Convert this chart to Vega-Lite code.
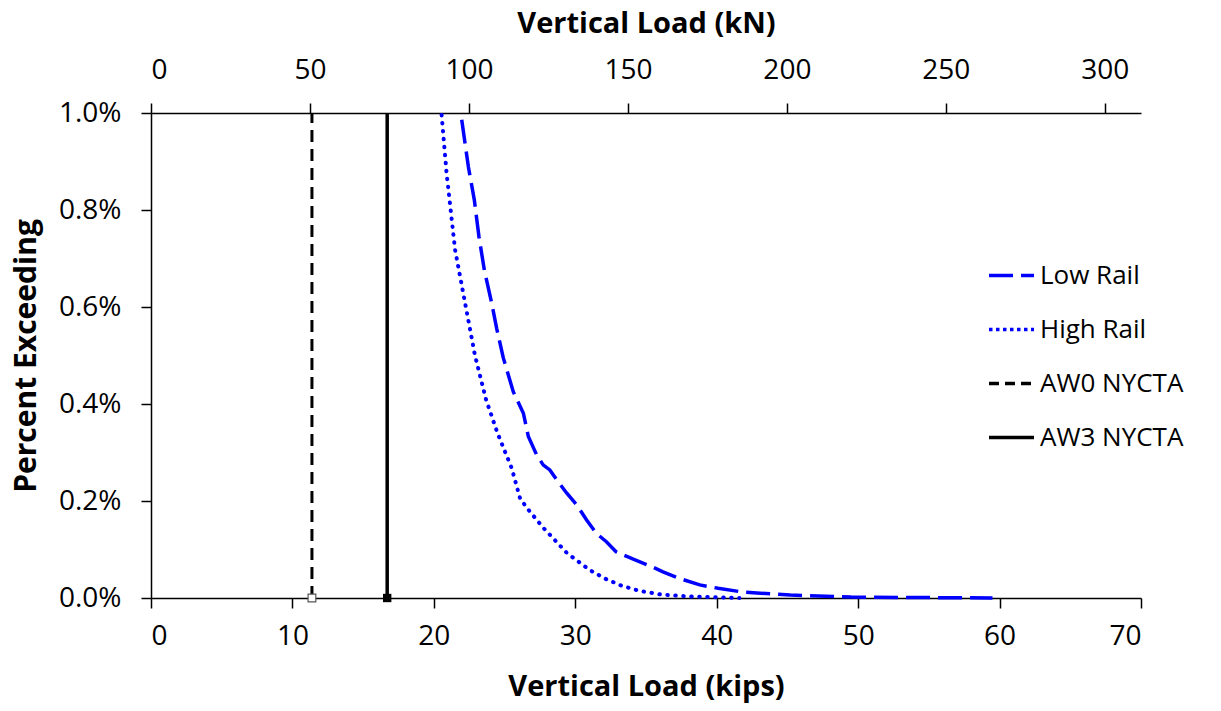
{
  "$schema": "https://vega.github.io/schema/vega-lite/v6.json",
  "width": 990,
  "height": 485,
  "autosize": {"type": "none"},
  "padding": {"left": 151, "top": 113, "right": 80, "bottom": 113},
  "background": "white",
  "config": {
    "font": "Open Sans",
    "view": {"stroke": null},
    "axis": {"grid": false, "labelFontSize": 28, "titleFontSize": 29, "titleFontWeight": "bold", "labelColor": "black", "titleColor": "black", "domainColor": "black", "tickColor": "black", "domainWidth": 1.5, "tickWidth": 1.5, "tickSize": 10}
  },
  "data": {
    "values": [
      {"series": "Low Rail", "kips": 21.97, "pct": 0.00986},
      {"series": "Low Rail", "kips": 22.44, "pct": 0.00889},
      {"series": "Low Rail", "kips": 22.86, "pct": 0.00821},
      {"series": "Low Rail", "kips": 23.19, "pct": 0.00745},
      {"series": "Low Rail", "kips": 23.57, "pct": 0.00676},
      {"series": "Low Rail", "kips": 24.09, "pct": 0.00608},
      {"series": "Low Rail", "kips": 24.44, "pct": 0.00556},
      {"series": "Low Rail", "kips": 24.91, "pct": 0.00495},
      {"series": "Low Rail", "kips": 25.62, "pct": 0.00425},
      {"series": "Low Rail", "kips": 26.33, "pct": 0.00381},
      {"series": "Low Rail", "kips": 26.68, "pct": 0.00333},
      {"series": "Low Rail", "kips": 27.27, "pct": 0.00295},
      {"series": "Low Rail", "kips": 27.74, "pct": 0.00274},
      {"series": "Low Rail", "kips": 28.2, "pct": 0.00264},
      {"series": "Low Rail", "kips": 28.7, "pct": 0.00243},
      {"series": "Low Rail", "kips": 29.4, "pct": 0.00216},
      {"series": "Low Rail", "kips": 30.1, "pct": 0.00192},
      {"series": "Low Rail", "kips": 30.8, "pct": 0.00161},
      {"series": "Low Rail", "kips": 31.5, "pct": 0.00133},
      {"series": "Low Rail", "kips": 32.2, "pct": 0.00116},
      {"series": "Low Rail", "kips": 32.9, "pct": 0.00095},
      {"series": "Low Rail", "kips": 34.1, "pct": 0.0008},
      {"series": "Low Rail", "kips": 35.3, "pct": 0.00066},
      {"series": "Low Rail", "kips": 36.2, "pct": 0.00054},
      {"series": "Low Rail", "kips": 37.4, "pct": 0.0004},
      {"series": "Low Rail", "kips": 38.8, "pct": 0.00027},
      {"series": "Low Rail", "kips": 40.1, "pct": 0.0002},
      {"series": "Low Rail", "kips": 41.9, "pct": 0.00012},
      {"series": "Low Rail", "kips": 45.2, "pct": 0.00006},
      {"series": "Low Rail", "kips": 49.5, "pct": 0.00002},
      {"series": "Low Rail", "kips": 54.0, "pct": 0.00001},
      {"series": "Low Rail", "kips": 59.5, "pct": 0.0},
      {"series": "High Rail", "kips": 20.55, "pct": 0.00996},
      {"series": "High Rail", "kips": 20.9, "pct": 0.00876},
      {"series": "High Rail", "kips": 21.5, "pct": 0.00718},
      {"series": "High Rail", "kips": 22.3, "pct": 0.00594},
      {"series": "High Rail", "kips": 22.9, "pct": 0.00501},
      {"series": "High Rail", "kips": 23.7, "pct": 0.00408},
      {"series": "High Rail", "kips": 24.5, "pct": 0.0034},
      {"series": "High Rail", "kips": 25.5, "pct": 0.00268},
      {"series": "High Rail", "kips": 26.1, "pct": 0.00205},
      {"series": "High Rail", "kips": 26.6, "pct": 0.00185},
      {"series": "High Rail", "kips": 27.7, "pct": 0.00146},
      {"series": "High Rail", "kips": 29.4, "pct": 0.00093},
      {"series": "High Rail", "kips": 31.0, "pct": 0.00058},
      {"series": "High Rail", "kips": 32.1, "pct": 0.0004},
      {"series": "High Rail", "kips": 33.3, "pct": 0.00025},
      {"series": "High Rail", "kips": 34.5, "pct": 0.00015},
      {"series": "High Rail", "kips": 36.1, "pct": 0.00007},
      {"series": "High Rail", "kips": 38.1, "pct": 0.00003},
      {"series": "High Rail", "kips": 41.6, "pct": 0.0},
      {"series": "AW0 NYCTA", "kips": 11.38, "pct": 0.0},
      {"series": "AW0 NYCTA", "kips": 11.38, "pct": 0.01},
      {"series": "AW3 NYCTA", "kips": 16.7, "pct": 0.0},
      {"series": "AW3 NYCTA", "kips": 16.7, "pct": 0.01}
    ]
  },
  "layer": [
    {
      "transform": [{"filter": "datum.series == 'Low Rail'"}],
      "mark": {"type": "line", "strokeWidth": 3.5, "strokeDash": [26, 10]},
      "encoding": {
        "x": {"field": "kips", "type": "quantitative", "scale": {"domain": [0, 70], "nice": false}, "axis": {"orient": "bottom", "title": "Vertical Load (kips)", "values": [0, 10, 20, 30, 40, 50, 60, 70], "labelPadding": 14, "titlePadding": 22}},
        "y": {"field": "pct", "type": "quantitative", "scale": {"domain": [0, 0.01], "nice": false}, "axis": {"title": "Percent Exceeding", "titleFontSize": 30, "format": ".1%", "values": [0, 0.002, 0.004, 0.006, 0.008, 0.01], "labelPadding": 20, "titlePadding": 17}},
        "color": {"field": "series", "type": "nominal", "sort": null, "scale": {"domain": ["Low Rail", "High Rail", "AW0 NYCTA", "AW3 NYCTA"], "range": ["#0000ff", "#0000ff", "#000000", "#000000"]}, "legend": {"title": null, "orient": "none", "legendX": 836, "legendY": 138, "labelFontSize": 26, "labelColor": "black", "symbolType": "stroke", "symbolSize": 2025, "symbolStrokeWidth": 3.5, "rowPadding": 16, "labelOffset": 4, "padding": 0}},
        "strokeDash": {"field": "series", "type": "nominal", "sort": null, "scale": {"domain": ["Low Rail", "High Rail", "AW0 NYCTA", "AW3 NYCTA"], "range": [[24, 8], [3.5, 3.5], [10, 6], [1, 0]]}, "legend": {"title": null, "orient": "none", "legendX": 836, "legendY": 138, "labelFontSize": 26, "labelColor": "black", "symbolType": "stroke", "symbolSize": 2025, "symbolStrokeWidth": 3.5, "rowPadding": 16, "labelOffset": 4, "padding": 0}}
      }
    },
    {
      "transform": [{"filter": "datum.series == 'High Rail'"}],
      "mark": {"type": "line", "strokeWidth": 4, "strokeDash": [0.5, 7.5], "strokeCap": "round"},
      "encoding": {
        "x": {"field": "kips", "type": "quantitative", "axis": null},
        "y": {"field": "pct", "type": "quantitative"},
        "color": {"field": "series", "type": "nominal", "sort": null}
      }
    },
    {
      "transform": [{"filter": "datum.series == 'AW0 NYCTA'"}],
      "mark": {"type": "line", "strokeWidth": 3, "strokeDash": [12, 7]},
      "encoding": {
        "x": {"field": "kips", "type": "quantitative", "axis": null},
        "y": {"field": "pct", "type": "quantitative"},
        "color": {"field": "series", "type": "nominal", "sort": null}
      }
    },
    {
      "transform": [{"filter": "datum.series == 'AW3 NYCTA'"}],
      "mark": {"type": "line", "strokeWidth": 3.5},
      "encoding": {
        "x": {"field": "kips", "type": "quantitative", "axis": null},
        "y": {"field": "pct", "type": "quantitative"},
        "color": {"field": "series", "type": "nominal", "sort": null}
      }
    },
    {
      "transform": [{"filter": "datum.series == 'AW0 NYCTA' && datum.pct == 0"}],
      "mark": {"type": "point", "shape": "square", "size": 60, "filled": true, "fill": "white", "stroke": "#555555", "strokeWidth": 1.2, "opacity": 1},
      "encoding": {
        "x": {"field": "kips", "type": "quantitative", "axis": null},
        "y": {"field": "pct", "type": "quantitative"}
      }
    },
    {
      "transform": [{"filter": "datum.series == 'AW3 NYCTA' && datum.pct == 0"}],
      "mark": {"type": "point", "shape": "square", "size": 70, "filled": true, "fill": "black", "opacity": 1},
      "encoding": {
        "x": {"field": "kips", "type": "quantitative", "axis": null},
        "y": {"field": "pct", "type": "quantitative"}
      }
    },
    {
      "transform": [{"filter": "datum.series == 'Low Rail'"}],
      "mark": {"type": "point", "opacity": 0},
      "encoding": {
        "x": {"field": "kips", "type": "quantitative", "axis": {"orient": "top", "title": "Vertical Load (kN)", "values": [0, 11.2404, 22.4809, 33.7213, 44.9618, 56.2022, 67.4427], "labelExpr": "format(datum.value * 4.44822, '.0f')", "labelPadding": 19, "titlePadding": 18}},
        "y": {"field": "pct", "type": "quantitative"}
      }
    }
  ],
  "resolve": {"axis": {"x": "independent"}}
}
